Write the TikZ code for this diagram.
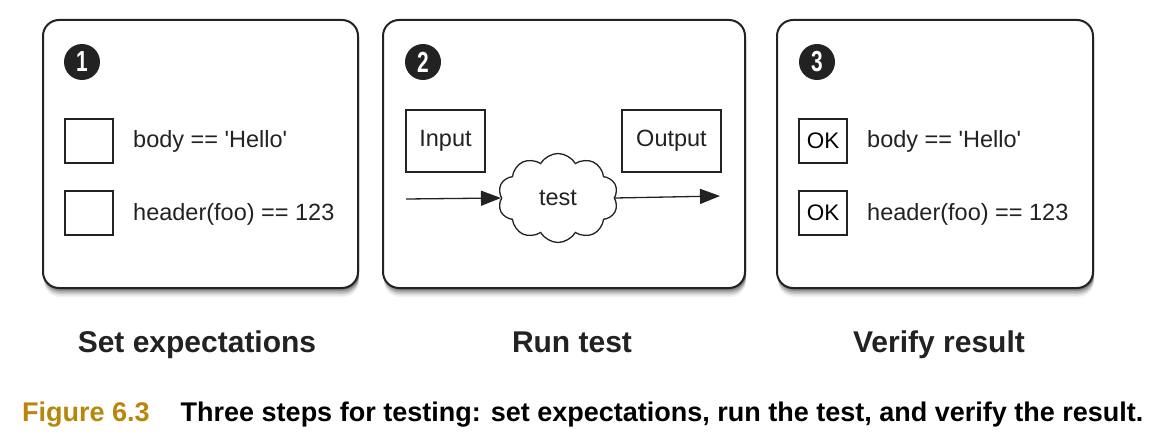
\documentclass[tikz,border=0pt]{standalone}
\usepackage{fontspec}
\setmainfont{Liberation Sans}
\usetikzlibrary{shapes.symbols,arrows.meta}
\definecolor{gold}{HTML}{B8860B}
\definecolor{ink}{HTML}{222222}
\newcommand{\sq}{\textquotesingle}
\tikzset{
  panel/.style={draw=ink, line width=2pt, rounded corners=16pt, fill=white},
  shade/.style={rounded corners=16pt, fill=black},
  numdot/.style={circle, fill=ink, minimum size=36pt, inner sep=0pt, text=white, font=\bfseries\fontsize{29}{29}\selectfont},
  chk/.style={draw=ink, line width=1.3pt, minimum width=48pt, minimum height=44pt, inner sep=0pt, font=\fontsize{22.5}{22.5}\selectfont},
  lbl/.style={anchor=base west, inner sep=0pt, text=ink, font=\fontsize{23.5}{23.5}\selectfont},
  iobox/.style={draw=ink, line width=1.3pt, minimum height=62pt, inner sep=0pt, font=\fontsize{23.5}{23.5}\selectfont, text=ink},
  testcloud/.style={cloud, draw=ink, line width=1.3pt, cloud puffs=10, cloud puff arc=120, minimum width=120pt, minimum height=89pt, inner sep=0pt, font=\fontsize{23.5}{23.5}\selectfont, text=ink},
  flow/.style={draw=ink, line width=1.3pt, -{Triangle[length=20pt,width=15pt]}},
  steptitle/.style={anchor=base, inner sep=0pt, font=\bfseries\fontsize{30}{30}\selectfont, text=ink},
}
\begin{document}
\begin{tikzpicture}[x=1pt,y=-1pt]
\useasboundingbox (0,0) rectangle (1165,441);
% shadows
\foreach \xa/\xb in {43/358, 383/745, 777/1093}{
  \foreach \d/\o in {9/0.05, 7.5/0.07, 6/0.1, 4.5/0.13, 3/0.17, 1.5/0.2}{
    \fill[shade, opacity=\o] (\xa+1,20+\d) rectangle (\xb+1,288+\d);
  }
}
% panels
\draw[panel] (43,20) rectangle (358,288);
\draw[panel] (383,20) rectangle (745,288);
\draw[panel] (777,20) rectangle (1093,288);
\node[numdot] (n1) at (82,62) {\scalebox{0.72}[1]{1}};
\node[numdot] (n2) at (423,62) {\scalebox{0.72}[1]{2}};
\node[numdot] (n3) at (817,62) {\scalebox{0.72}[1]{3}};
% panel 1
\node[chk] (c1) at (89,141) {};
\node[chk] (c2) at (89,213) {};
\node[lbl] (t1) at (133,148) {body == \sq Hello\sq};
\node[lbl] (t2) at (133,220) {header(foo) == 123};
% panel 2
\node[iobox, minimum width=79pt] (in) at (445.5,141) {Input};
\node[iobox, minimum width=99pt] (out) at (671.5,141) {Output};
\node[testcloud] (tc) at (558,198) {test};
\coordinate (src) at (406,199);
\coordinate (dst) at (720,196);
\draw[flow] (src) -- (tc.west);
\draw[flow] (tc.east) -- (dst);
% panel 3
\node[chk] (k1) at (823,141) {OK};
\node[chk] (k2) at (823,213) {OK};
\node[lbl] (u1) at (867,148) {body == \sq Hello\sq};
\node[lbl] (u2) at (867,220) {header(foo) == 123};
% titles
\node[steptitle] (s1) at (197,352) {Set expectations};
\node[steptitle] (s2) at (572,352) {Run test};
\node[steptitle] (s3) at (939,352) {Verify result};
% caption
\node[anchor=base west, inner sep=0pt, font=\bfseries\fontsize{27}{27}\selectfont] (cap) at (22,421)
  {\textcolor{gold}{Figure 6.3}\hspace{31pt}Three steps for testing: set expectations, run the test, and verify the result.};
\end{tikzpicture}
\end{document}
